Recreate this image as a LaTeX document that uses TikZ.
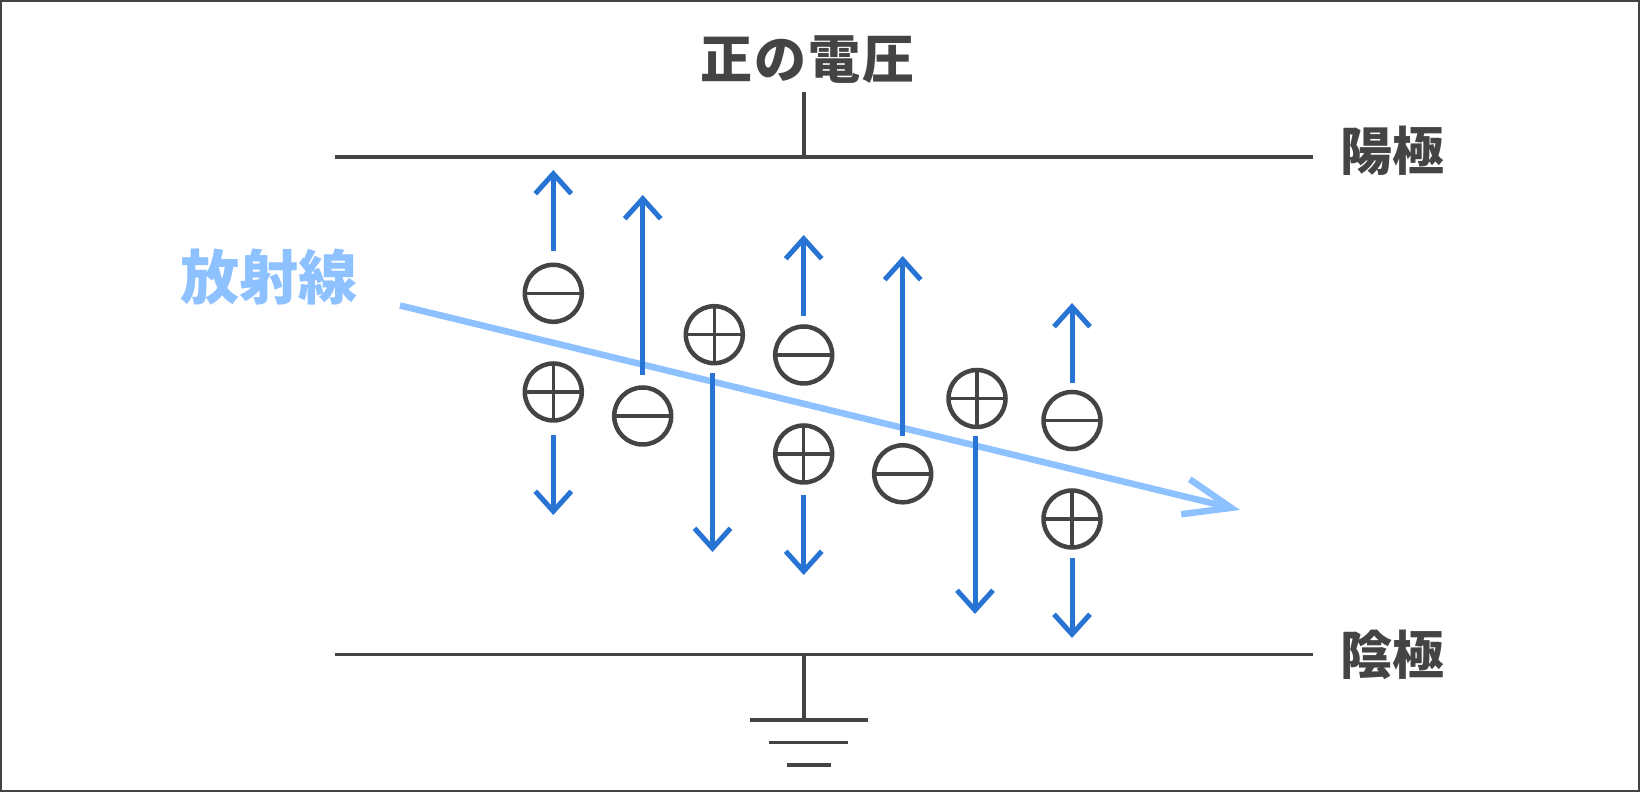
\documentclass[tikz,border=0pt]{standalone}
\usepackage{fontspec}
\newfontfamily\cjk{Noto Sans CJK JP}
\newfontfamily\cjkwide{Noto Sans CJK JP}[LetterSpace=4]
\usetikzlibrary{arrows.meta}
\definecolor{inkgray}{HTML}{444444}
\definecolor{pairblue}{HTML}{2874D4}
\definecolor{rayblue}{HTML}{8EC1FF}
\tikzset{
  plate/.style={line width=0.035cm, draw=inkgray},
  pole/.style={font=\cjk\bfseries\fontsize{14.8}{16}\selectfont, text=inkgray, inner sep=0pt},
  ion/.style={shape=circle, draw=inkgray, line width=0.045cm, minimum size=0.57cm, inner sep=0pt},
  ionbar/.style={inkgray, line width=0.035cm, shorten <=0.012cm, shorten >=0.012cm},
  ionneg/.style={ion, path picture={\draw[ionbar] (path picture bounding box.west) -- (path picture bounding box.east);}},
  ionpos/.style={ion, path picture={\draw[ionbar] (path picture bounding box.west) -- (path picture bounding box.east);
    \draw[ionbar] (path picture bounding box.north) -- (path picture bounding box.south);}},
  drift/.style={-{Straight Barb[length=0.2cm,width=0.36cm]}, line width=0.05cm, draw=pairblue}
}
\begin{document}
\begin{tikzpicture}
\useasboundingbox (0,0) rectangle (16.4,-7.92);
\node[draw=inkgray, line width=0.02cm, minimum width=16.38cm, minimum height=7.9cm, inner sep=0pt, outer sep=0pt] (frame) at (8.2,-3.96) {};
% plates
\coordinate (A1) at (3.347,-1.572);
\coordinate (A2) at (13.127,-1.572);
\coordinate (C1) at (3.347,-6.545);
\coordinate (C2) at (13.127,-6.545);
\coordinate (A0) at (8.04,-1.572);
\coordinate (C0) at (8.04,-6.545);
\node[pole, font=\cjkwide\bfseries\fontsize{14.8}{16}\selectfont] (volt) at (8.075,-0.6) {正の電圧};
\node[pole] (anode) at (13.925,-1.51) {陽極};
\node[pole] (cathode) at (13.925,-6.55) {陰極};
\node[pole, text=rayblue, font=\cjk\bfseries\fontsize{16.8}{18}\selectfont] (raylabel) at (2.69,-2.77) {放射線};
\coordinate (V) at (8.04,-0.92);
\coordinate (G) at (8.04,-7.2);
\coordinate (G1a) at (7.5,-7.2);
\coordinate (G1b) at (8.677,-7.2);
\coordinate (G2a) at (7.693,-7.423);
\coordinate (G2b) at (8.483,-7.423);
\coordinate (G3a) at (7.87,-7.65);
\coordinate (G3b) at (8.307,-7.65);
\draw [plate] (A1) -- (A2);
\draw [plate] (C1) -- (C2);
\draw [plate] (V) -- (A0);
\draw [plate] (C0) -- (G);
\draw [plate] (G1a) -- (G1b);
\draw [plate] (G2a) -- (G2b);
\draw [plate] (G3a) -- (G3b);
% radiation
\coordinate (R1) at (4.0,-3.055);
\coordinate (R2) at (12.4,-5.1);
\draw [-{Straight Barb[length=0.47cm,width=0.36cm]}, line width=0.065cm, draw=rayblue] (R1) -- (R2);
% ion pairs
\node[ionneg] (n1) at (5.533,-2.933) {};
\node[ionpos] (p1) at (5.533,-3.92) {};
\node[ionneg] (n2) at (6.427,-4.16) {};
\node[ionpos] (p2) at (7.143,-3.347) {};
\node[ionneg] (n3) at (8.037,-3.55) {};
\node[ionpos] (p3) at (8.037,-4.54) {};
\node[ionneg] (n4) at (9.027,-4.738) {};
\node[ionpos] (p4) at (9.77,-3.985) {};
\node[ionneg] (n5) at (10.72,-4.205) {};
\node[ionpos] (p5) at (10.72,-5.19) {};
\coordinate (tn1) at (5.533,-1.7);
\coordinate (tp1) at (5.533,-5.15);
\coordinate (tn2) at (6.427,-1.95);
\coordinate (tp2) at (7.125,-5.52);
\coordinate (tn3) at (8.037,-2.35);
\coordinate (tp3) at (8.037,-5.75);
\coordinate (tn4) at (9.027,-2.56);
\coordinate (tp4) at (9.75,-6.14);
\coordinate (tn5) at (10.72,-3.03);
\coordinate (tp5) at (10.72,-6.38);
\draw [drift, shorten <=0.12cm] (n1.north) -- (tn1);
\draw [drift, shorten <=0.125cm] (p1.south) -- (tp1);
\draw [drift, shorten <=0.105cm] (n2.north) -- (tn2);
\draw [drift, shorten <=0.08cm] (p2.south -| tp2) -- (tp2);
\draw [drift, shorten <=0.085cm] (n3.north) -- (tn3);
\draw [drift, shorten <=0.105cm] (p3.south) -- (tp3);
\draw [drift, shorten <=0.07cm] (n4.north) -- (tn4);
\draw [drift, shorten <=0.07cm] (p4.south -| tp4) -- (tp4);
\draw [drift, shorten <=0.07cm] (n5.north) -- (tn5);
\draw [drift, shorten <=0.08cm] (p5.south) -- (tp5);
\end{tikzpicture}
\end{document}
